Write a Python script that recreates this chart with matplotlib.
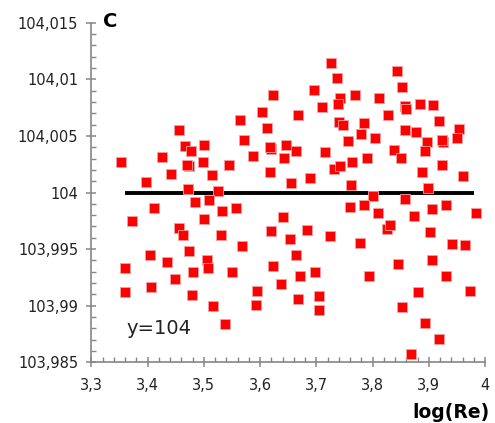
import matplotlib.pyplot as plt
from matplotlib.ticker import MultipleLocator

# data
log_re = [3.353, 3.456, 3.467, 3.477, 3.500, 3.426, 3.474, 3.471, 3.499, 3.441,
          3.515, 3.545, 3.398, 3.472, 3.525, 3.485, 3.509, 3.411, 3.532, 3.557,
          3.565, 3.572, 3.588, 3.373, 3.500,
          3.623, 3.603, 3.613, 3.620, 3.617, 3.646, 3.643, 3.664, 3.618, 3.655,
          3.689, 3.668, 3.696, 3.711, 3.716, 3.727, 3.737, 3.743, 3.739, 3.769,
          3.741, 3.747, 3.785, 3.779, 3.757, 3.805, 3.790, 3.764, 3.732, 3.742,
          3.762,
          3.812, 3.828, 3.843, 3.853, 3.857, 3.860, 3.885, 3.908, 3.919, 3.857,
          3.878, 3.896, 3.893, 3.926, 3.923, 3.954, 3.951, 3.838, 3.850, 3.888,
          3.924, 3.961, 3.898, 3.800, 3.858, 3.760, 3.785, 3.905, 3.931, 3.810,
          3.873, 3.984, 3.641,
          3.456, 3.463, 3.530, 3.568, 3.474, 3.404, 3.435, 3.360, 3.506, 3.508,
          3.480, 3.550, 3.449, 3.360, 3.406, 3.479, 3.517, 3.538,
          3.619, 3.653, 3.684, 3.724, 3.664, 3.623, 3.671, 3.697, 3.638, 3.595,
          3.592, 3.668, 3.704, 3.705,
          3.825, 3.831, 3.777, 3.793, 3.903, 3.941, 3.964, 3.846, 3.905, 3.931,
          3.881, 3.973, 3.852, 3.894, 3.918, 3.868]

y_vals = [104.00267, 104.00553, 104.00415, 104.00367, 104.00418, 104.00318, 104.00235, 104.00247, 104.00267, 104.00167,
          104.00155, 104.00243, 104.00090, 104.00028, 104.00013, 103.99916, 103.99931, 103.99866, 103.99838, 103.99866,
          104.00643, 104.00468, 104.00319, 103.99745, 103.99763,
          104.00858, 104.00707, 104.00568, 104.00380, 104.00400, 104.00418, 104.00305, 104.00367, 104.00179, 104.00081,
          104.00132, 104.00683, 104.00909, 104.00757, 104.00356, 104.01148, 104.01008, 104.00836, 104.00785, 104.00862,
          104.00623, 104.00593, 104.00610, 104.00521, 104.00458, 104.00484, 104.00309, 104.00267, 104.00205, 104.00232,
          104.00068,
          104.00831, 104.00681, 104.01071, 104.00934, 104.00763, 104.00742, 104.00785, 104.00769, 104.00633, 104.00548,
          104.00533, 104.00446, 104.00369, 104.00444, 104.00462, 104.00565, 104.00484, 104.00372, 104.00309, 104.00179,
          104.00243, 104.00143, 104.00042, 103.99969, 103.99942, 103.99869, 103.99891, 103.99856, 103.99893, 103.99818,
          103.99794, 103.99816, 103.99782,
          103.99689, 103.99627, 103.99627, 103.99526, 103.99486, 103.99450, 103.99385, 103.99335, 103.99406, 103.99335,
          103.99300, 103.99300, 103.99232, 103.99119, 103.99161, 103.99096, 103.98996, 103.98842,
          103.99659, 103.99586, 103.99672, 103.99612, 103.99450, 103.99347, 103.99258, 103.99300, 103.99196, 103.99126,
          103.99008, 103.99061, 103.99084, 103.98958,
          103.99676, 103.99716, 103.99550, 103.99258, 103.99650, 103.99542, 103.99539, 103.99365, 103.99400, 103.99258,
          103.99123, 103.99126, 103.98987, 103.98845, 103.98707, 103.98571]

fit_value = 104
fit_range = [3.36, 3.98]

x_ticks = [3.3, 3.4, 3.5, 3.6, 3.7, 3.8, 3.9, 4.0]
x_labels = ['3,3', '3,4', '3,5', '3,6', '3,7', '3,8', '3,9', '4']
y_ticks = [103.985, 103.99, 103.995, 104.0, 104.005, 104.01, 104.015]
y_labels = ['103,985', '103,99', '103,995', '104', '104,005', '104,01', '104,015']

fig = plt.figure(figsize=(4.95, 4.23), dpi=100)
ax = fig.add_axes([0.1844, 0.1435, 0.7954, 0.8028])

ax.hlines(fit_value, fit_range[0], fit_range[1], color='black', lw=2.8, zorder=2)
ax.scatter(log_re, y_vals, marker='s', s=52, color='#ff0000',
           edgecolors='#f2a0a0', linewidths=0.6, zorder=3)

ax.set_xlim(3.3, 4.0)
ax.set_ylim(103.985, 104.015)
ax.set_xticks(x_ticks)
ax.set_xticklabels(x_labels)
ax.set_yticks(y_ticks)
ax.set_yticklabels(y_labels)
ax.xaxis.set_minor_locator(MultipleLocator(0.02))
ax.yaxis.set_minor_locator(MultipleLocator(0.001))

gray = '#868686'
for side in ['top', 'right']:
    ax.spines[side].set_visible(False)
for side in ['left', 'bottom']:
    ax.spines[side].set_color(gray)
    ax.spines[side].set_linewidth(1.2)

ax.tick_params(which='major', direction='inout', length=7, width=1.1, color=gray,
               labelsize=10.5, labelcolor='#222222')
ax.tick_params(axis='y', which='major', pad=6)
ax.tick_params(axis='x', which='major', pad=8)
ax.tick_params(which='minor', direction='in', length=3.5, width=1.0, color=gray)

ax.text(3.363, 103.9875, 'y=104', fontsize=14, color='#222222', va='baseline')
fig.text(103 / 495, 1 - 27 / 423, 'C', fontsize=14, fontweight='bold', va='baseline')
fig.text(490 / 495, 0.012, 'log(Re)', fontsize=13.5, fontweight='bold',
         ha='right', va='baseline')

fig.savefig('out.png', dpi=100)
